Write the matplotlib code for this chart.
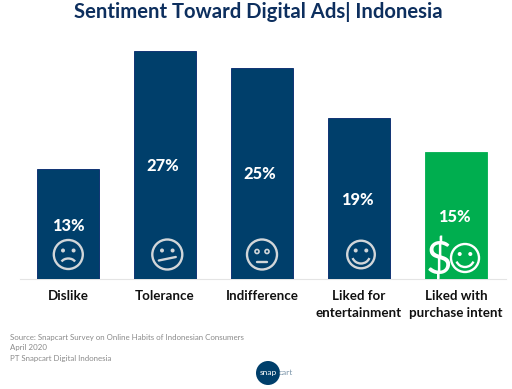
import matplotlib
matplotlib.use("Agg")
import matplotlib.pyplot as plt
from matplotlib.patches import Circle, Arc

categories = ["Dislike", "Tolerance", "Indifference", "Liked for\nentertainment", "Liked with\npurchase intent"]
values = [13, 27, 25, 19, 15]
value_labels = ["13%", "27%", "25%", "19%", "15%"]
bar_colors = ["#003F6B", "#003F6B", "#003F6B", "#003F6B", "#00AE4F"]
edge_colors = ["#00246B", "#00246B", "#00246B", "#00246B", "#00AE4F"]

W, H = 512, 389
plt.rcParams["font.family"] = ["Lato", "DejaVu Sans"]
fig = plt.figure(figsize=(W / 100, H / 100), dpi=100, facecolor="white")

left, right, base, top = 20, 506, 278.5, 51.0
ax = fig.add_axes([left / W, 1 - base / H, (right - left) / W, (base - top) / H])
step = 97.0
x0 = (68 - left) / step
ax.set_xlim(-x0, (right - left) / step - x0)
ax.set_ylim(0, 27)
ax.bar(range(5), values, width=0.645, color=bar_colors, edgecolor=edge_colors, linewidth=0.6, zorder=3)
for s in ["top", "left", "right"]:
    ax.spines[s].set_visible(False)
ax.spines["bottom"].set_color("#E4E4E4")
ax.spines["bottom"].set_linewidth(0.8)
ax.set_yticks([])
ax.set_xticks(range(5))
ax.set_xticklabels(categories, fontsize=9.6, fontweight="bold", color="#111111", linespacing=1.5)
ax.tick_params(axis="x", length=0, pad=8.0)

label_py = [226, 166, 174, 200, 217]
for i, lab in enumerate(value_labels):
    ax.text(i - 0.02 * (i > 0), (base - label_py[i]) / 8.44, lab, ha="center", va="center",
            color="white", fontsize=11.8, fontweight="black", zorder=5)

ov = fig.add_axes([0, 0, 1, 1], facecolor="none")
ov.set_xlim(0, W)
ov.set_ylim(H, 0)
ov.axis("off")

def face(cx, cy, r, col, kind, lw=1.7):
    ov.add_patch(Circle((cx, cy), r, fill=False, ec=col, lw=lw, zorder=6))
    if kind == "indiff":
        for dx in (-5, 5):
            ov.add_patch(Circle((cx + dx, cy - 3), 2.0, fill=False, ec=col, lw=1.2, zorder=6))
        ov.plot([cx - 5, cx + 5], [cy + 7, cy + 7], color=col, lw=lw, zorder=6, solid_capstyle="round")
        return
    for dx in (-5.3, 5.3):
        ov.add_patch(Circle((cx + dx, cy - 4), 2.0, fc=col, ec="none", zorder=6))
    if kind == "sad":
        ov.add_patch(Arc((cx, cy + 9.5), 15, 11, theta1=200, theta2=340, ec=col, lw=lw, zorder=6))
    elif kind == "flat":
        ov.plot([cx - 8.5, cx + 8.5], [cy + 6, cy + 2.5], color=col, lw=lw, zorder=6, solid_capstyle="round")
    else:
        ov.add_patch(Arc((cx, cy + 0.5), 18, 17, theta1=20, theta2=160, ec=col, lw=lw, zorder=6))

grey = "#D2D6D9"
face(68.3, 254.5, 14.5, grey, "sad")
face(167.3, 254.5, 15, grey, "flat")
face(262, 254.5, 15, grey, "indiff")
face(361, 254.5, 13.8, grey, "smile")
face(465, 258, 14, "white", "smile")
ov.text(439, 261, "$", color="white", fontsize=33, ha="center", va="center", zorder=6)

fig.text(258.5 / W, 1 - 12 / H, "Sentiment Toward Digital Ads| Indonesia", ha="center", va="center",
         fontsize=14.55, fontweight="bold", color="#0D2F5E")

for y, t in zip([337.5, 347.5, 358], ["Source: Snapcart Survey on Online Habits of Indonesian Consumers", "April 2020",
                                      "PT Snapcart Digital Indonesia"]):
    ov.text(9.5, y, t, fontsize=5.65, color="#8A8A8A", ha="left", va="center")

ov.add_patch(Circle((268, 373), 12, fc="#003F6B", ec="none", zorder=6))
ov.text(260, 372.5, "snap", color="white", fontsize=6.0, ha="left", va="center", zorder=7)
ov.text(279, 372.5, "cart", color="#7F98AC", fontsize=6.0, ha="left", va="center", zorder=7)

fig.savefig("out.png", dpi=100, facecolor="white")
